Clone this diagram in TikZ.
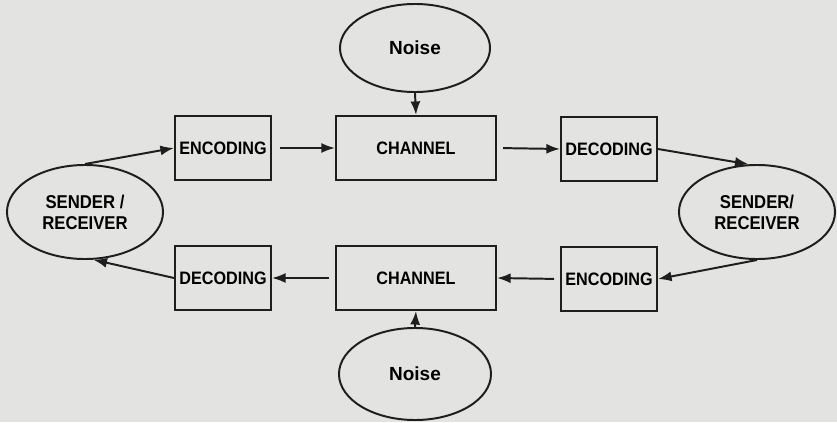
\documentclass[tikz,border=0pt]{standalone}
\usepackage{fontspec}
\setmainfont{Liberation Sans}
\newfontfamily\narrowfont[FakeStretch=0.9]{Liberation Sans}
\usetikzlibrary{arrows.meta,shapes.geometric}
\definecolor{paper}{RGB}{227,227,225}
\definecolor{ink}{RGB}{30,30,30}

\begin{document}
\begin{tikzpicture}[x=0.025cm,y=-0.025cm,
  box/.style={rectangle,draw=ink,line width=1.4pt,minimum width=2.4cm,minimum height=1.6cm,inner sep=0pt,font=\narrowfont\bfseries\fontsize{12.8}{14}\selectfont},
  chan/.style={box,minimum width=4cm},
  blob/.style={ellipse,draw=ink,line width=1.4pt,inner sep=0pt,align=center,font=\narrowfont\bfseries\fontsize{13.2}{15}\selectfont},
  link/.style={draw=ink,line width=1.4pt,-{Latex[length=3.4mm,width=2.5mm]}}]
\fill[paper] (0,0) rectangle (837,422);
% x, y in pixels
\node[blob,minimum width=3.75cm,minimum height=2.2cm,font=\bfseries\fontsize{13.5}{15}\selectfont] (noise1) at (415,48) {Noise};
\node[blob,minimum width=3.8cm,minimum height=2.3cm,font=\bfseries\fontsize{13.5}{15}\selectfont] (noise2) at (415,374) {Noise};
\node[blob,minimum width=3.9cm,minimum height=2.35cm] (sr1) at (85,212) {SENDER /\\RECEIVER};
\node[blob,minimum width=3.9cm,minimum height=2.35cm] (sr2) at (757,212) {SENDER/\\RECEIVER};
% top row
\node[box] (enc1) at (223,148) {ENCODING};
\node[chan] (chan1) at (416,148) {CHANNEL};
\node[box] (dec1) at (609,149) {DECODING};
% bottom row
\node[box] (dec2) at (223,278) {DECODING};
\node[chan] (chan2) at (416,278) {CHANNEL};
\node[box] (enc2) at (609,279) {ENCODING};
% arrows
\draw[link] (sr1.north) -- (enc1.west);
\draw[link,shorten <=2mm] (enc1.east) -- (chan1.west);
\draw[link,shorten <=1.5mm] (chan1.east) -- (dec1.west);
\draw[link] (dec1.east) -- (sr2.100);
\draw[link] (sr2.south) -- (enc2.east);
\draw[link,shorten <=1.5mm] (enc2.west) -- (chan2.east);
\draw[link,shorten <=1.5mm] (chan2.west) -- (dec2.east);
\draw[link] (dec2.west) -- (sr1.-80);
\draw[link] (noise1.south) -- (chan1.north);
\draw[link] (noise2.north) -- (chan2.south);
\end{tikzpicture}
\end{document}
